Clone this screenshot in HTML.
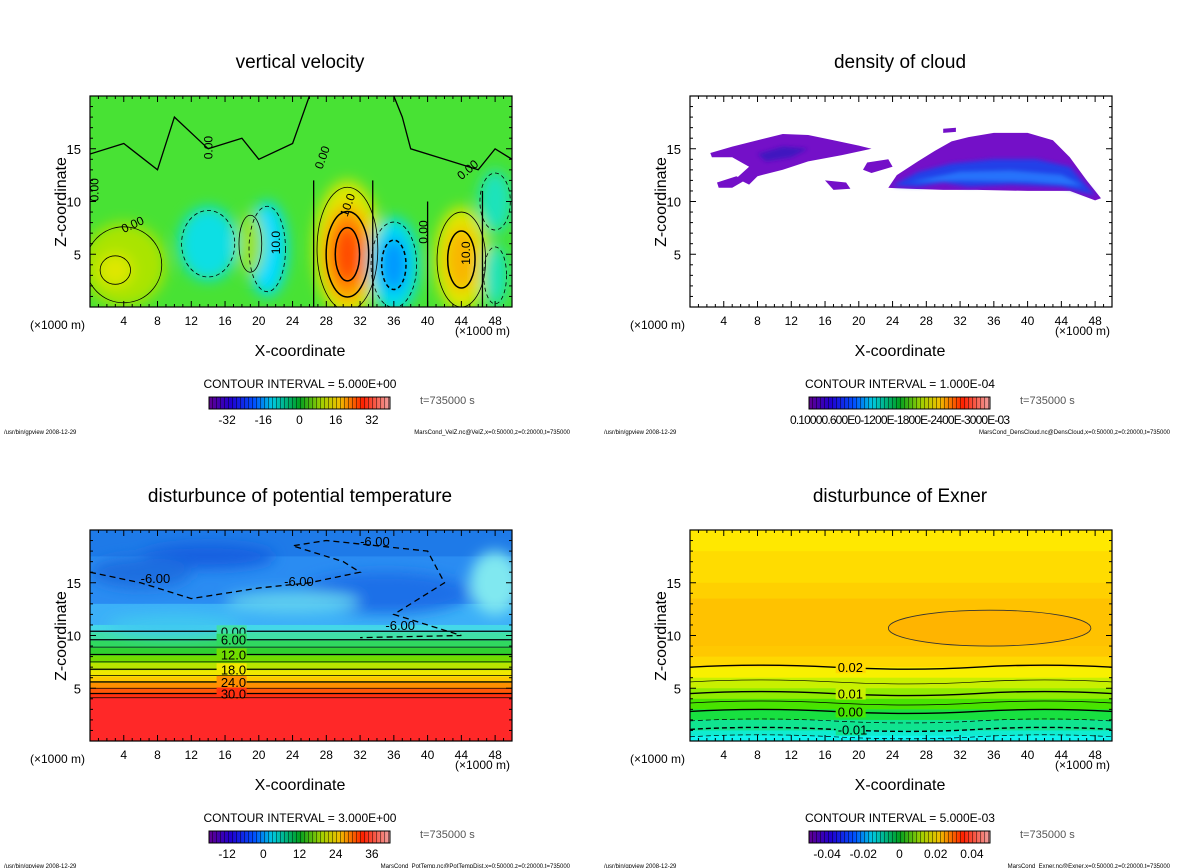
<!DOCTYPE html>
<html><head><meta charset="utf-8"><style>
html,body{margin:0;padding:0;background:#fff;}
svg{display:block;font-family:"Liberation Sans",sans-serif;}
</style></head><body>
<svg id="root" width="1200" height="868" viewBox="0 0 1200 868" xmlns="http://www.w3.org/2000/svg">
<defs>
<filter id="blur4" x="-30%" y="-30%" width="160%" height="160%"><feGaussianBlur stdDeviation="7"/></filter>
<filter id="blur2" x="-20%" y="-20%" width="140%" height="140%"><feGaussianBlur stdDeviation="2"/></filter>
<linearGradient id="rainbow" x1="0" x2="1" y1="0" y2="0">
<stop offset="0" stop-color="#600090"/><stop offset="0.12" stop-color="#2000d0"/><stop offset="0.25" stop-color="#0050ff"/><stop offset="0.35" stop-color="#00c8e0"/><stop offset="0.5" stop-color="#00a020"/><stop offset="0.62" stop-color="#a0d000"/><stop offset="0.72" stop-color="#f0c000"/><stop offset="0.85" stop-color="#ff2000"/><stop offset="1" stop-color="#f0a0a0"/>
</linearGradient>
<pattern id="stripes" width="4" height="20" patternUnits="userSpaceOnUse"><rect x="0" y="0" width="1" height="20" fill="rgba(0,0,0,0.45)"/></pattern>
</defs>
<g id="panels"></g>
</svg>
<script>
// ---- data ----
const xTicks=[4,8,12,16,20,24,28,32,36,40,44,48];
const zTicks=[5,10,15];
const panelTitles=["vertical velocity","density of cloud","disturbunce of potential temperature","disturbunce of Exner"];
const intervals=["5.000E+00","1.000E-04","3.000E+00","5.000E-03"];
const files=["MarsCond_VelZ.nc@VelZ,x=0:50000,z=0:20000,t=735000","MarsCond_DensCloud.nc@DensCloud,x=0:50000,z=0:20000,t=735000","MarsCond_PotTemp.nc@PotTempDist,x=0:50000,z=0:20000,t=735000","MarsCond_Exner.nc@Exner,x=0:50000,z=0:20000,t=735000"];
const cbLabels=[["-32","-16","0","16","32"],null,["-12","0","12","24","36"],["-0.04","-0.02","0","0.02","0.04"]];
const cbLabelVals=[[-32,-16,0,16,32],null,[-12,0,12,24,36],[-0.04,-0.02,0,0.02,0.04]];
const cbRange=[[-40,40],null,[-18,42],[-0.05,0.05]];
// vertical velocity blobs
const wX=[4,3,30.5,30.5,30.5,44,44,14,21,36,36,48,48,19];
const wZ=[4,3.5,5.5,5,5,4.5,4.5,6,5.5,4,4,3,10,6];
const wRX=[5,2,4,2.8,1.6,3.2,1.8,3.5,2.4,3,1.6,1.5,2,1.5];
const wRZ=[4,1.5,6.5,4.5,2.8,5,3,3.5,4.5,4.5,2.6,3,3,3];
const wVal=[6,9,9,18,28,9,15,-10,-12,-11,-18,-7,-7,5];
// cloud polygons (x km, z km)
const cloudOuter=[
 [[23.5,11.3],[24.5,12.5],[27,13.8],[29,14.8],[31,15.7],[33,16.1],[36,16.5],[40,16.5],[43,15.8],[45,14.2],[47,12],[48.7,10.3],[48,10.1],[45,11],[40,11],[34,11.1],[30,11.1],[26,11.2]],
 [[2.4,14.6],[5,15.2],[8,15.8],[11,16.4],[14,16.3],[17,15.8],[20,15.3],[21.5,15],[18,14.4],[14,13.8],[11,13],[8,12.4],[7,11.6],[5.5,12.2],[7,13.3],[5,14.2],[2.6,14.2]],
 [[3.2,11.8],[5.5,12.4],[6.5,12],[5,11.3],[3.4,11.3]],
 [[21,13.7],[23.5,14],[24,13.3],[21.5,12.7],[20.5,13]],
 [[16,12],[18.5,11.8],[19,11.2],[17,11.1]],
 [[30,16.9],[31.5,17],[31.5,16.6],[30,16.5]]
];
const cloudInner=[[[24,11.5],[27,12.8],[31,13.6],[36,14],[41,14],[45,13.3],[48,10.6],[44,11.4],[38,11.6],[33,11.4],[30,11.8],[27,11.4]],
 [[8,14.5],[11,15.2],[14,15],[12,14.2],[9,13.8]]];
// potential temperature bands (z top, color)
const thZ=[20,17.5,13,11,10.3,9.5,8.8,8.1,7.4,6.7,6.1,5.5,5,4.5,4.1];
const thC=["#1e7ae8","#2a8cf2","#3cb0f8","#44d8e8","#40e0a8","#30d860","#30d030","#70dc00","#b8e400","#f0e800","#ffc800","#ff9000","#ff5808","#ff3010","#ff2828"];
const thLines=[10.4,9.6,8.9,8.2,7.5,6.8,6.2,5.6,5.0,4.5,4.1];
const thLabels={10.4:"0.00",9.6:"6.00",8.2:"12.0",6.8:"18.0",5.6:"24.0",4.5:"30.0"};
// exner bands
const exZ=[20,18,15,13.5,9,8,7,6,5,4,3,2,1,0.5];
const exC=["#ffe800","#ffdc00","#ffd000","#ffc200","#ffc800","#ffd800","#f8f000","#c8f000","#90ec00","#48e400","#18e040","#10e490","#10ecd0","#10f4f0"];
const exLines=[7,5.6,4.5,3.6,2.8,1.9,1.1,0.4];
const exDash=[0,0,0,0,0,1,1,1];
const exLab={7:"0.02",4.5:"0.01",2.8:"0.00",1.1:"-0.01"};

// ---- helpers ----
const NS="http://www.w3.org/2000/svg";
const root=document.getElementById('panels');
function mk(tag,attrs,parent){const e=document.createElementNS(NS,tag);for(const k in attrs)e.setAttribute(k,attrs[k]);(parent||root).appendChild(e);return e;}
function txt(s,attrs,parent){const e=mk('text',attrs,parent);e.textContent=s;return e;}
const stops=[[-40,[96,0,144]],[-30,[0,0,255]],[-20,[0,128,255]],[-12,[0,220,255]],[-5,[40,230,160]],[0,[72,226,52]],[6,[170,228,0]],[10,[240,232,0]],[18,[255,150,0]],[26,[255,80,0]],[40,[255,30,30]]];
function vcol(v){if(v<=stops[0][0])return 'rgb('+stops[0][1]+')';for(let i=1;i<stops.length;i++){if(v<=stops[i][0]){const a=stops[i-1],b=stops[i];const t=(v-a[0])/(b[0]-a[0]);return 'rgb('+a[1].map((c,j)=>Math.round(c+(b[1][j]-c)*t)).join(',')+')';}}return 'rgb('+stops[stops.length-1][1]+')';}

const panels=[{ox:0,oy:0},{ox:600,oy:0},{ox:0,oy:434},{ox:600,oy:434}];
panels.forEach((p,i)=>{
 const g=mk('g',{});
 
 
 const L=90+p.ox,R=512+p.ox,T=96+p.oy,B=307+p.oy;
 const sx=x=>L+(R-L)*x/50, sz=z=>B-(B-T)*z/20;
 const t=txt(panelTitles[i],{x:300+p.ox,y:68+p.oy,'text-anchor':'middle','font-size':19},g);
 
 const clipId='clip'+i;const cp=mk('clipPath',{id:clipId},g);mk('rect',{x:L,y:T,width:R-L,height:B-T},cp);
 const plot=mk('g',{'clip-path':'url(#'+clipId+')'},g);
 
 const pts=arr=>arr.map(q=>sx(q[0]).toFixed(1)+','+sz(q[1]).toFixed(1)).join(' ');
 if(i===0){
  mk('rect',{x:L,y:T,width:R-L,height:B-T,fill:vcol(0)},plot);
  const bl=mk('g',{filter:'url(#blur4)'},plot);
  wX.forEach((x,k)=>{const e=mk('ellipse',{cx:sx(x),cy:sz(wZ[k]),rx:wRX[k]*(R-L)/50,ry:wRZ[k]*(B-T)/20,fill:vcol(wVal[k])},bl);});
  wX.forEach((x,k)=>{mk('ellipse',{cx:sx(x),cy:sz(wZ[k]),rx:wRX[k]*(R-L)/50*0.9,ry:wRZ[k]*(B-T)/20*0.9,fill:'none',stroke:'#000','stroke-width':Math.abs(wVal[k])>12?1.5:0.8,'stroke-dasharray':wVal[k]<0?'4,3':'none'},plot);});
  [[26.5,0,12],[33.5,0,12],[40,0,10],[46.5,0,11]].forEach(l=>mk('line',{x1:sx(l[0]),x2:sx(l[0]),y1:sz(l[1]),y2:sz(l[2]),stroke:'#000','stroke-width':1.3},plot));
  mk('polyline',{points:pts([[0,14.5],[4,15.5],[8,13],[10,18],[14,15],[18,16],[20,14],[24,15.5],[26,20]]),fill:'none',stroke:'#000','stroke-width':1.3},plot);
  mk('polyline',{points:pts([[36,20],[37,18],[38,15],[42,14],[46,13],[48,15],[50,14]]),fill:'none',stroke:'#000','stroke-width':1.3},plot);
  [["0.00",4,7,-25],["10.0",22.5,5,-90],["10.0",30.5,8.5,-70],["10.0",45,4,-90],["0.00",40,6,-90],["0.00",27.5,13,-70],["0.00",44,12,-40],["0.00",1,10,-90],["0.00",14.5,14,-90]].forEach(a=>txt(a[0],{x:sx(a[1]),y:sz(a[2]),'font-size':12,transform:'rotate('+a[3]+' '+sx(a[1])+' '+sz(a[2])+')'},plot));
 } else if(i===1){
  cloudOuter.forEach(poly=>{const e=mk('polygon',{points:pts(poly),fill:'#7410c8'},plot);});
  const ib=mk('g',{filter:'url(#blur2)'},plot);
  cloudInner.forEach((poly,k)=>mk('polygon',{points:pts(poly),fill:k===0?'#2040e8':'#4018c0'},ib));
  mk('polygon',{points:pts([[26,11.8],[32,12.8],[38,12.9],[44,12.5],[46.5,11.5],[40,11.9],[32,12]]),fill:'#2880ff',opacity:0.8},ib);
 } else if(i===2){
  thZ.forEach((z,k)=>{const z2=k+1<thZ.length?thZ[k+1]:0;const e=mk('rect',{x:L,y:sz(z),width:R-L,height:sz(z2)-sz(z)+1,fill:thC[k]},plot);});
  const bb=mk('g',{filter:'url(#blur4)'},plot);
  [[14,17.5,8,1.2,'#1860e0'],[6,16,6,1.5,'#1e6ee0'],[35,14,10,2,'#1a70e8'],[24,13.2,8,1,'#60d0f0'],[48,15,3,3,'#80e8f0'],[10,11,8,1,'#40c8f0']].forEach(b=>mk('ellipse',{cx:sx(b[0]),cy:sz(b[1]),rx:b[2]*(R-L)/50,ry:b[3]*(B-T)/20,fill:b[4]},bb));
  thLines.forEach(z=>{mk('line',{x1:L,x2:R,y1:sz(z),y2:sz(z),stroke:'#000','stroke-width':(z in thLabels)?1.3:0.7},plot);
   if(thLabels[z]){mk('rect',{x:sx(15),y:sz(z)-6,width:30,height:12,fill:thC[thLines.indexOf(z)+4]},plot);txt(thLabels[z],{x:sx(15.5),y:sz(z)+5,'font-size':13},plot);}});
  mk('polyline',{points:pts([[0,16],[6,15],[12,13.5],[20,14.5],[26,15],[32,16],[30,17],[24,18.5],[28,19],[40,18],[42,15],[36,12],[44,10],[32,9.8]]),fill:'none',stroke:'#000','stroke-width':1.3,'stroke-dasharray':'6,4'},plot);
  [["-6.00",32,18.5],["-6.00",6,15],["-6.00",23,14.7],["-6.00",35,10.5]].forEach(a=>txt(a[0],{x:sx(a[1]),y:sz(a[2]),'font-size':13},plot));
 } else {
  exZ.forEach((z,k)=>{const z2=k+1<exZ.length?exZ[k+1]:0;const e=mk('rect',{x:L,y:sz(z),width:R-L,height:sz(z2)-sz(z)+1,fill:exC[k]},plot);});
  mk('ellipse',{cx:sx(35.5),cy:sz(10.7),rx:12*(R-L)/50,ry:1.7*(B-T)/20,fill:'#ffb400',stroke:'#333','stroke-width':0.8},plot);
  exLines.forEach((z,k)=>{mk('path',{d:'M'+L+','+sz(z)+' Q'+sx(8)+','+(sz(z)-4)+' '+sx(17)+','+sz(z)+' T'+sx(34)+','+sz(z)+' T'+R+','+sz(z),fill:'none',stroke:'#000','stroke-width':(z in exLab)?1.4:0.7,'stroke-dasharray':exDash[k]?'5,3':'none'},plot);
   if(exLab[z]){mk('rect',{x:sx(17.5)-2,y:sz(z)-6,width:30,height:12,fill:exC[Math.min(exC.length-1,k+5)]},plot);txt(exLab[z],{x:sx(17.5),y:sz(z)+5,'font-size':13},plot);}});
 }
 mk('rect',{x:L,y:T,width:R-L,height:B-T,fill:'none',stroke:'#000','stroke-width':1.2},g);
 xTicks.forEach(v=>{mk('line',{x1:sx(v),x2:sx(v),y1:B,y2:B-6,stroke:'#000'},g);mk('line',{x1:sx(v),x2:sx(v),y1:T,y2:T+6,stroke:'#000'},g);
  const l=txt(String(v),{x:sx(v),y:B+18,'text-anchor':'middle','font-size':12},g);});
 for(let v=1;v<50;v++){if(v%4){mk('line',{x1:sx(v),x2:sx(v),y1:B,y2:B-3,stroke:'#000'},g);mk('line',{x1:sx(v),x2:sx(v),y1:T,y2:T+3,stroke:'#000'},g);}}
 zTicks.forEach(v=>{mk('line',{x1:L,x2:L+6,y1:sz(v),y2:sz(v),stroke:'#000'},g);mk('line',{x1:R,x2:R-6,y1:sz(v),y2:sz(v),stroke:'#000'},g);
  const l=txt(String(v),{x:L-9,y:sz(v)+5,'text-anchor':'end','font-size':13},g);});
 for(let v=1;v<20;v++){if(v%5){mk('line',{x1:L,x2:L+3,y1:sz(v),y2:sz(v),stroke:'#000'},g);mk('line',{x1:R,x2:R-3,y1:sz(v),y2:sz(v),stroke:'#000'},g);}}
 txt('(×1000 m)',{x:30+p.ox,y:329+p.oy,'font-size':12},g);
 txt('(×1000 m)',{x:455+p.ox,y:335+p.oy,'font-size':12},g);
 const xt=txt('X-coordinate',{x:300+p.ox,y:356+p.oy,'text-anchor':'middle','font-size':16},g);
 const zt=txt('Z-coordinate',{x:66+p.ox,y:202+p.oy,'text-anchor':'middle','font-size':16,transform:'rotate(-90 '+(66+p.ox)+' '+(202+p.oy)+')'},g);
 txt('CONTOUR INTERVAL = '+intervals[i],{x:300+p.ox,y:388+p.oy,'text-anchor':'middle','font-size':12},g);
 const cb=mk('g',{},g);
 mk('rect',{x:209+p.ox,y:397+p.oy,width:181,height:12,fill:'url(#rainbow)'},cb);
 mk('rect',{x:209+p.ox,y:397+p.oy,width:181,height:12,fill:'url(#stripes)',stroke:'#000','stroke-width':1},cb);
 if(cbLabels[i]){const r=cbRange[i];cbLabels[i].forEach((s,k)=>{const x=209+p.ox+181*(cbLabelVals[i][k]-r[0])/(r[1]-r[0]);txt(s,{x:x,y:424+p.oy,'text-anchor':'middle','font-size':12},cb);});}
 else txt('0.10000.600E0-1200E-1800E-2400E-3000E-03',{x:300+p.ox,y:424+p.oy,'text-anchor':'middle','font-size':12,textLength:220},cb);
 txt('t=735000 s',{x:420+p.ox,y:404+p.oy,'font-size':11,fill:'#555'},g);
 txt('/usr/bin/gpview   2008-12-29',{x:4+p.ox,y:434+p.oy,'font-size':6},g);
 txt(files[i],{x:570+p.ox,y:434+p.oy,'text-anchor':'end','font-size':6},g);
});
</script>
</body></html>
